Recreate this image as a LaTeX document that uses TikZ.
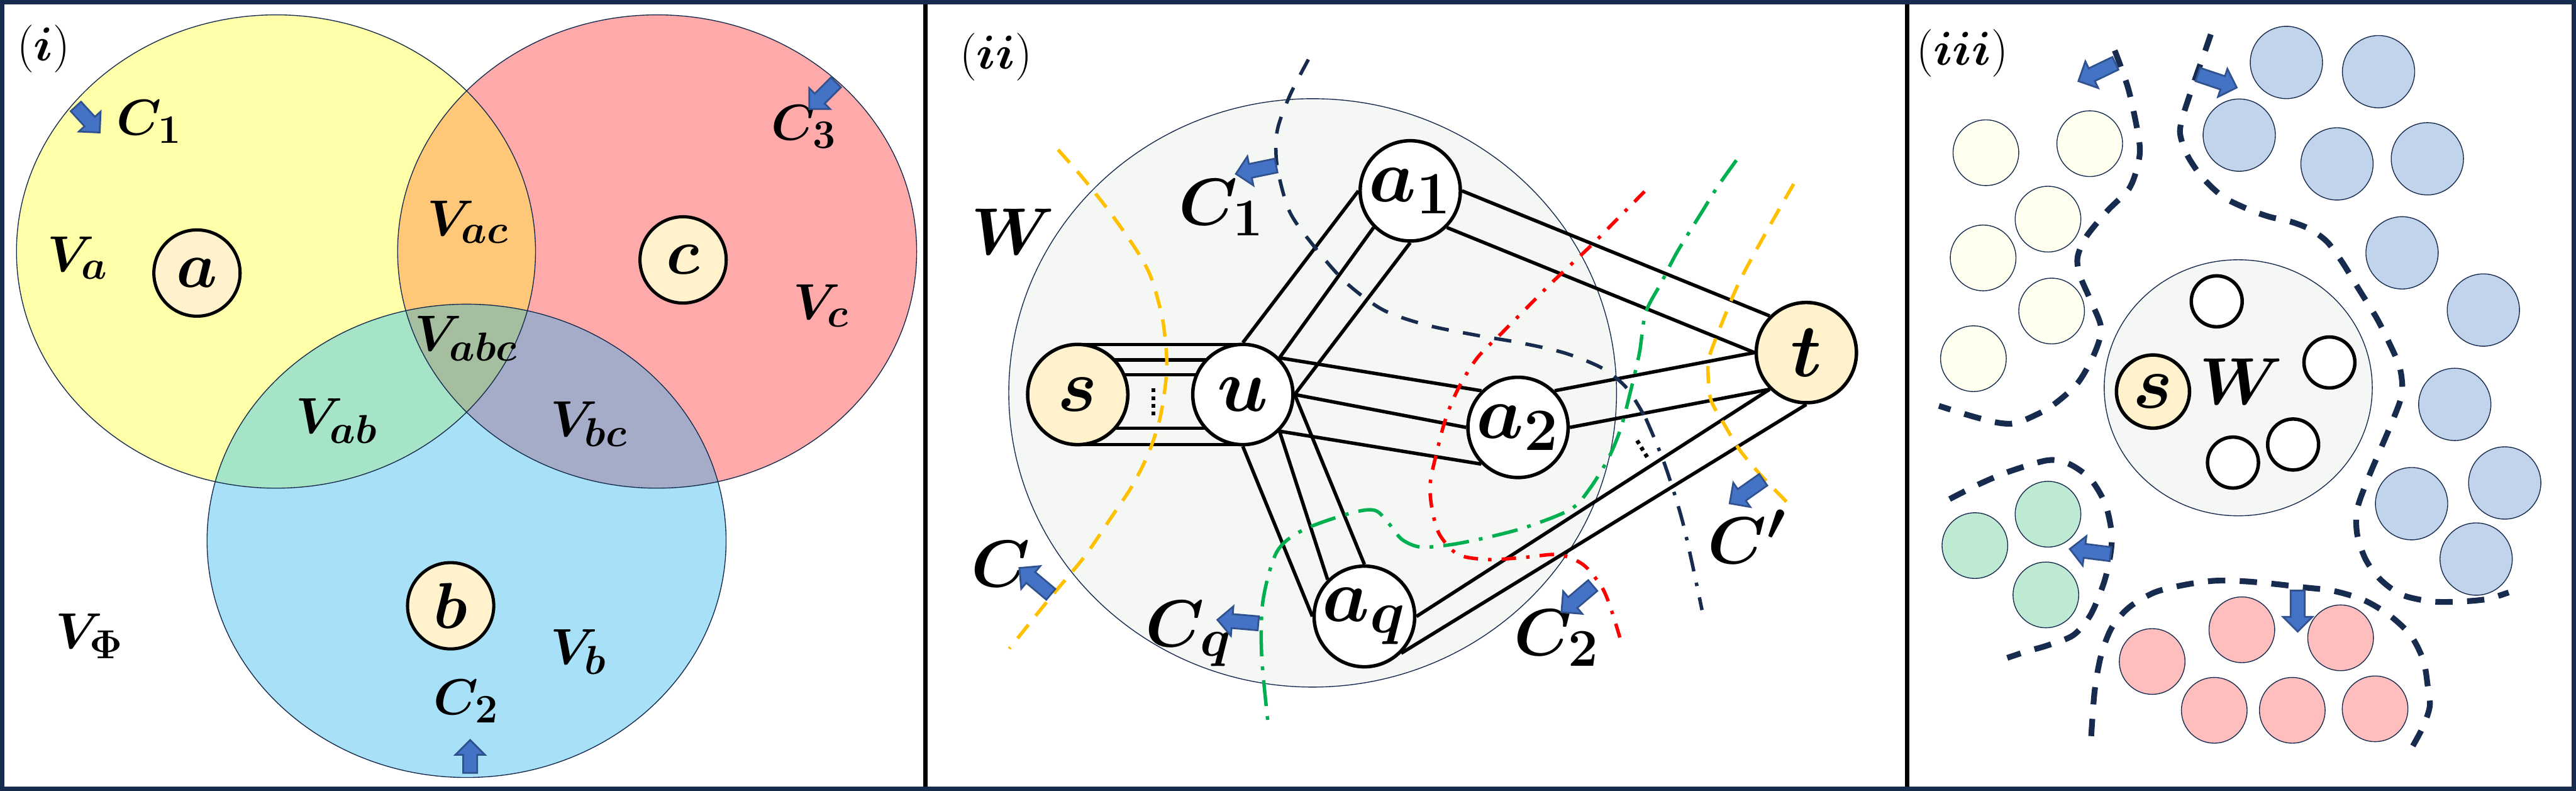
\RequirePackage{fix-cm}
\documentclass[tikz,border=0pt]{standalone}
\usepackage{amsmath}
\usepackage{xcolor}
\usepackage{tikz}
\usetikzlibrary{shapes.arrows, calc}

\renewcommand{\defaultscriptratio}{.8}

\definecolor{framenavy}{RGB}{23,43,78}
\definecolor{cream}{RGB}{255,242,204}
\definecolor{arrowblue}{RGB}{68,114,196}
\definecolor{arrowedge}{RGB}{47,82,143}
\definecolor{cutyellow}{RGB}{255,192,0}
\definecolor{cutgreen}{RGB}{0,176,80}
\definecolor{cutred}{RGB}{255,0,0}
\definecolor{wfill}{RGB}{244,247,244}
\definecolor{colY}{RGB}{255,255,170}
\definecolor{colR}{RGB}{255,170,170}
\definecolor{colB}{RGB}{168,224,248}
\definecolor{colYR}{RGB}{255,200,120}
\definecolor{colYB}{RGB}{165,228,198}
\definecolor{colRB}{RGB}{165,172,200}
\definecolor{colYRB}{RGB}{165,190,160}
\definecolor{dotY}{RGB}{255,255,240}
\definecolor{dotB}{RGB}{194,211,236}
\definecolor{dotG}{RGB}{190,234,212}
\definecolor{dotP}{RGB}{255,190,190}

\pgfdeclarelayer{back}
\pgfdeclarelayer{links}
\pgfsetlayers{back,links,main}

\begin{document}
\begin{tikzpicture}[
    x=0.02cm, y=-0.02cm,
    setline/.style={draw=framenavy, line width=0.3pt},
    vnode/.style={circle, draw=black, line width=1.1pt, fill=cream, minimum size=1.05cm, inner sep=0pt, font=\fontsize{22.5}{26}\selectfont\boldmath},
    gnode/.style={circle, draw=black, line width=1.2pt, fill=white, minimum size=1.22cm, inner sep=0pt, font=\fontsize{26}{29}\selectfont\boldmath},
    term/.style={gnode, fill=cream},
    lbl/.style={font=\fontsize{17.5}{20}\selectfont\boldmath},
    cutlbl/.style={font=\fontsize{23}{26}\selectfont\boldmath},
    panel/.style={font=\fontsize{16.5}{19}\selectfont},
    link/.style={line width=1.2pt},
    marks/.style={line width=1.4pt, dash pattern=on 1.3pt off 1.4pt},
    blkarrow/.style={single arrow, draw=arrowedge, fill=arrowblue, line width=0.6pt, inner xsep=0pt, inner ysep=0.075cm, single arrow head extend=0.095cm, minimum height=0.5cm},
    cutnavy/.style={draw=framenavy, line width=1.2pt, dash pattern=on 6pt off 5pt},
    cutnavydot/.style={draw=framenavy, line width=1.2pt, dash pattern=on 7pt off 4pt on 1.2pt off 4pt},
    cutyel/.style={draw=cutyellow, line width=1.2pt, dash pattern=on 6pt off 4pt},
    cutred/.style={draw=cutred, line width=1.2pt, dash pattern=on 5pt off 3.5pt on 1.2pt off 3.5pt},
    cutgrn/.style={draw=cutgreen, line width=1.2pt, dash pattern=on 9pt off 3.5pt on 1.3pt off 3.5pt},
    cluster/.style={draw=framenavy, line width=2pt, dash pattern=on 6pt off 5pt},
    dotc/.style={circle, draw=framenavy, line width=0.3pt, minimum size=0.8cm, inner sep=0pt},
    wdot/.style={circle, draw=black, line width=1.2pt, fill=white, minimum size=0.62cm, inner sep=0pt}
]
\useasboundingbox (0,0) rectangle (1568,481);

% ---------------- (i) Venn diagram ----------------
\def\vrx{3.16cm}\def\vry{2.88cm}
\coordinate (ya) at (168,153);
\coordinate (rc) at (400,153);
\coordinate (bb) at (284,329);

\fill[colY] (ya) ellipse [x radius=\vrx, y radius=\vry];
\fill[colR] (rc) ellipse [x radius=\vrx, y radius=\vry];
\fill[colB] (bb) ellipse [x radius=\vrx, y radius=\vry];
\begin{scope}
    \clip (ya) ellipse [x radius=\vrx, y radius=\vry];
    \fill[colYR] (rc) ellipse [x radius=\vrx, y radius=\vry];
    \fill[colYB] (bb) ellipse [x radius=\vrx, y radius=\vry];
\end{scope}
\begin{scope}
    \clip (rc) ellipse [x radius=\vrx, y radius=\vry];
    \fill[colRB] (bb) ellipse [x radius=\vrx, y radius=\vry];
\end{scope}
\begin{scope}
    \clip (ya) ellipse [x radius=\vrx, y radius=\vry];
    \clip (rc) ellipse [x radius=\vrx, y radius=\vry];
    \fill[colYRB] (bb) ellipse [x radius=\vrx, y radius=\vry];
\end{scope}
\draw[setline] (ya) ellipse [x radius=\vrx, y radius=\vry];
\draw[setline] (rc) ellipse [x radius=\vrx, y radius=\vry];
\draw[setline] (bb) ellipse [x radius=\vrx, y radius=\vry];

% Terminals
\node[vnode] (a) at (119.9,166.1) {$a$};
\node[vnode] (c) at (415.8,158.1) {$c$};
\node[vnode] (b) at (274.3,368.5) {$b$};

% Regions
\node[panel] (pi) at (26.5,29.8) {({\boldmath$i$})};
\node[lbl] (lC1) at (91,74) {$C_1$};
\node[lbl] (lC3) at (489.6,77) {$C_3$};
\node[lbl] (lC2) at (284,426.6) {$C_2$};
\node[lbl] (lVa) at (47.5,157) {$V_a$};
\node[lbl] (lVac) at (285,135) {$V_{ac}$};
\node[lbl] (lVc) at (500,186) {$V_c$};
\node[lbl] (lVabc) at (284,206) {$V_{abc}$};
\node[lbl] (lVab) at (205,256) {$V_{ab}$};
\node[lbl] (lVbc) at (358.6,258) {$V_{bc}$};
\node[lbl] (lVphi) at (54.7,387) {$V_{\Phi}$};
\node[lbl] (lVb) at (352.4,396.6) {$V_b$};

% Cut arrows
\node[blkarrow, minimum height=0.43cm, rotate=-47.5] (arrA) at (52,71.1) {};
\node[blkarrow, minimum height=0.46cm, rotate=-135] (arrC) at (502.2,56.7) {};
\node[blkarrow, minimum height=0.4cm, rotate=90] (arrB) at (286.2,462.3) {};

% ---------------- (ii) cuts between s and t ----------------
\begin{pgfonlayer}{back}
    \filldraw[fill=wfill, setline] (799,239) ellipse [x radius=3.7cm, y radius=3.58cm];
\end{pgfonlayer}

\node[panel] (pii) at (606.2,34.5) {({\boldmath$ii$})};
\node[cutlbl] (lW) at (616.5,141) {$W$};

% Vertices
\node[term] (s) at (656,240) {$s$};
\node[gnode] (u) at (756.5,240) {$u$};
\node[gnode] (a1) at (858.4,116.1) {$a_1$};
\node[gnode] (a2) at (924,260) {$a_2$};
\node[gnode] (aq) at (830.5,375) {$a_q$};
\node[term] (t) at (1099.5,214.5) {$t$};

% Connections
\begin{pgfonlayer}{links}
    \foreach \dy in {30.5,21,12,-20.5,-30.5}
        \draw[link] ([yshift=\dy*0.02cm]s.center) -- ([yshift=\dy*0.02cm]u.center);
    \foreach \p/\q in {90/180, 45/-135, 0/-90}
        \draw[link] (u.\p) -- (a1.\q);
    \foreach \p/\q in {45/135, 0/180, -45/-135}
        \draw[link] (u.\p) -- (a2.\q);
    \foreach \p/\q in {-90/180, -45/135, 0/90}
        \draw[link] (u.\p) -- (aq.\q);
    \foreach \p/\q in {0/135, -45/180}
        \draw[link] (a1.\p) -- (t.\q);
    \foreach \p/\q in {45/180, 0/-135}
        \draw[link] (a2.\p) -- (t.\q);
    \foreach \p/\q in {0/-135, -45/-90}
        \draw[link] (aq.\p) -- (t.\q);
\end{pgfonlayer}
\draw[marks] (702,236.3) -- (702,253);
\draw[marks] (996.5,268) -- (1003.5,279.5);

% Cuts
\draw[cutyel] plot[smooth] coordinates {(644.0,91.1) (658.4,107.4) (675.4,128.8) (692.4,153.2) (700.9,169.5) (707.6,194.0) (710.2,218.4) (709.3,234.7) (705.9,255.1) (699.2,275.5) (689.0,295.8) (675.4,316.2) (660.1,338.6) (639.7,363.1) (614.3,394.6)};
\draw[cutyel] plot[smooth] coordinates {(1091.8,111.9) (1076.0,139.5) (1059.2,170.4) (1048.0,196.8) (1040.5,216.7) (1039.6,225.5) (1041.4,243.2) (1049.8,258.6) (1059.2,274.1) (1072.2,289.5) (1087.6,305.4)};
\draw[cutnavy] plot[smooth] coordinates {(796.4,36.2) (785.0,58.3) (777.4,79.7) (777.4,101.2) (785.0,128.8) (800.2,150.3) (819.2,171.8) (842.0,188.6) (868.6,197.8) (899.1,204.0) (925.7,208.6) (952.3,214.7) (975.1,223.9) (990.3,236.2) (1001.8,254.6)};
\draw[cutnavydot] plot[smooth] coordinates {(1001.8,254.6) (1013.2,282.2) (1024.6,319.0) (1036.0,371.1)};
\draw[cutred] plot[smooth] coordinates {(1001.0,116.5) (982.7,135.0) (967.5,150.3) (944.7,171.8) (929.5,187.1) (914.3,202.4) (899.1,217.8) (887.7,236.2) (880.0,254.6) (874.3,276.0) (870.5,294.4) (871.7,309.8) (876.2,325.1) (887.7,337.4) (906.7,340.4) (929.5,338.9) (948.5,337.4) (963.7,343.5) (975.1,357.3) (980.8,371.1) (986.5,389.5)};
\draw[cutgrn] plot[smooth] coordinates {(1056.9,97.5) (1045.5,113.5) (1036.0,128.8) (1020.8,153.4) (1011.3,171.8) (1001.7,190.2) (997.9,214.7) (992.2,239.2) (986.5,260.7) (978.9,279.1) (967.5,297.5) (956.1,309.8) (929.5,320.5) (906.7,326.6) (883.9,331.2) (864.8,332.8) (853.4,328.2) (845.8,319.0) (837.0,310.5) (822.3,312.1) (793.4,322.3) (777.3,335.5) (768.8,365.1) (767.9,397.7) (771.7,438.6)};

% Cut labels
\node[cutlbl] (cC1) at (743.5,126.4) {$C_1$};
\node[cutlbl] (cC) at (609.3,343) {$C$};
\node[cutlbl] (cCq) at (723.7,385.5) {$C_q$};
\node[cutlbl] (cC2) at (947.7,388) {$C_2$};
\node[cutlbl] (cCp) at (1063.4,326.6) {$C'$};

\node[blkarrow, rotate=-168.3] (arrC1) at (766.6,102.8) {};
\node[blkarrow, rotate=-139.7] (arrC2) at (961.6,362.9) {};
\node[blkarrow, rotate=175.1] (arrCq) at (755.6,378.3) {};
\node[blkarrow, rotate=140.1] (arrCs) at (631.7,354.9) {};
\node[blkarrow, rotate=-144.9] (arrCp) at (1064.8,297.8) {};

% ---------------- (iii) clusters around W ----------------
\node[panel] (piii) at (1194.5,32.2) {({\boldmath$iii$})};
\begin{pgfonlayer}{back}
    \filldraw[fill=wfill, setline] (1362.4,235.9) ellipse [x radius=1.632cm, y radius=1.558cm];
\end{pgfonlayer}
\node[circle, draw=black, line width=1.2pt, fill=cream, minimum size=0.89cm, inner sep=0pt, font=\fontsize{26}{29}\selectfont\boldmath] (s3) at (1310.5,238.2) {$s$};
\node[font=\fontsize{23}{26}\selectfont\boldmath] (W3) at (1364,232) {$W$};
\foreach \x/\y [count=\i] in {1349.3/183.3, 1417.9/220.5, 1395.8/270.4, 1359.2/281.4}
    \node[wdot] (w\i) at (\x,\y) {};

\foreach \x/\y [count=\i] in {1208.8/92.9, 1272.0/87.4, 1246.6/133.3, 1207.1/156.9, 1248.8/189.2, 1201.2/218.2}
    \node[dotc, fill=dotY] (y\i) at (\x,\y) {};
\foreach \x/\y [count=\i] in {1391.7/38.0, 1447.8/43.6, 1363.0/82.2, 1422.5/99.7, 1477.5/96.6, 1462.1/153.8, 1511.6/188.6, 1494.2/246.0, 1467.9/306.4, 1524.6/293.8, 1507.2/340.1}
    \node[dotc, fill=dotB, minimum size=0.88cm] (b\i) at (\x,\y) {};
\foreach \x/\y [count=\i] in {1202.1/331.9, 1246.6/312.8, 1245.3/361.9}
    \node[dotc, fill=dotG] (g\i) at (\x,\y) {};
\foreach \x/\y [count=\i] in {1310.0/402.4, 1364.6/383.1, 1424.7/388.0, 1347.8/432.1, 1395.3/432.1, 1445.7/431.2}
    \node[dotc, fill=dotP] (p\i) at (\x,\y) {};

% Cluster boundaries
\draw[cluster] plot[smooth] coordinates {(1287.2,30.7) (1295.8,55.2) (1302.3,87.4) (1301.0,101.2) (1295.8,115.0) (1282.8,128.2) (1269.8,144.1) (1264.6,156.4) (1265.9,167.2) (1272.4,182.5) (1278.9,199.4) (1275.0,214.7) (1264.6,233.1) (1249.0,246.9) (1236.0,253.9) (1225.7,257.6) (1215.3,257.0) (1199.7,253.0) (1180.2,246.9)};
\draw[cluster] plot[smooth] coordinates {(1345.7,20.9) (1341.3,33.7) (1337.4,44.5) (1332.2,59.8) (1328.3,72.1) (1327.0,81.3) (1330.9,93.5) (1340.0,107.3) (1353.0,119.6) (1368.5,127.3) (1381.5,131.9) (1394.5,134.9) (1406.2,139.5) (1416.6,147.2) (1425.7,159.5) (1436.1,176.4) (1446.5,193.2) (1454.3,208.6) (1460.8,223.9) (1462.1,239.2) (1456.9,254.6) (1449.1,273.0) (1441.3,291.4) (1434.8,309.8) (1434.8,325.1) (1440.0,340.4) (1449.1,352.7) (1462.1,361.9) (1480.3,365.9) (1498.4,365.9) (1514.0,364.4) (1527.0,360.4)};
\draw[cluster] plot[smooth] coordinates {(1186.7,303.6) (1204.9,294.4) (1223.1,286.8) (1246.4,280.0) (1259.4,282.2) (1272.4,291.4) (1281.5,306.7) (1285.4,325.1) (1284.1,340.4) (1280.2,355.8) (1272.4,374.2) (1262.0,386.4) (1246.4,392.6) (1233.5,396.3) (1221.8,400.2)};
\draw[cluster] plot[smooth] coordinates {(1272.9,447.8) (1275.0,420.2) (1278.9,398.7) (1285.4,381.8) (1295.8,369.6) (1311.4,360.4) (1329.6,355.8) (1347.8,353.3) (1365.9,353.6) (1384.1,355.2) (1402.3,357.3) (1420.5,359.5) (1438.7,365.0) (1454.3,374.2) (1467.3,386.4) (1475.1,401.8) (1477.7,417.1) (1479.0,429.4) (1475.1,441.6) (1468.6,453.9) (1464.7,460.1)};

\node[blkarrow, rotate=-154.3] (arrY) at (1278.3,43) {};
\node[blkarrow, rotate=-18.6] (arrBl) at (1347.6,48.6) {};
\node[blkarrow, rotate=172.8] (arrG) at (1274.4,335.8) {};
\node[blkarrow, rotate=-90] (arrP) at (1398.6,369.6) {};

% Frame
\draw[black, line width=1.5pt] (563.3,2.6) -- (563.3,478.4);
\draw[black, line width=1.5pt] (1160.8,2.6) -- (1160.8,478.4);
\draw[framenavy, line width=1.5pt] (1.32,1.32) rectangle (1566.68,479.68);

\end{tikzpicture}
\end{document}
